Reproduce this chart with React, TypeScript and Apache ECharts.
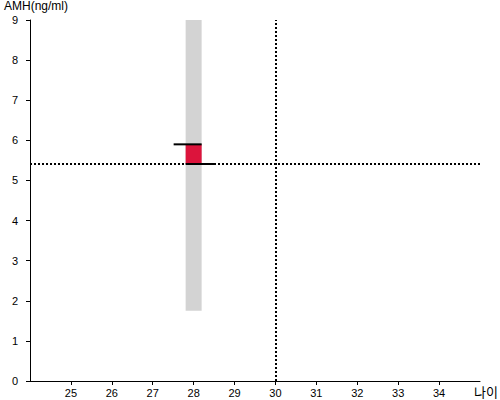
import React, { useEffect, useRef } from "react";
import * as echarts from "echarts";

const ages = [28];
const rangeLow = [1.75];
const rangeHigh = [9];
const amhValues = [5.9];
const referenceAmh = 5.41;
const referenceAge = 30;

export default function App() {
  const ref = useRef<HTMLDivElement>(null);
  useEffect(() => {
    const chart = echarts.init(ref.current!, null, { renderer: "svg" });
    const data = ages.map((a, i) => [a, rangeLow[i], rangeHigh[i], amhValues[i], referenceAmh]);
    chart.setOption({
      animation: false,
      grid: { left: 30, right: 20, top: 20, bottom: 19, containLabel: false, outerBoundsMode: "none" },
      xAxis: {
        type: "value",
        min: 24,
        max: 35,
        interval: 1,
        name: "나이",
        nameLocation: "end",
        nameGap: 0,
        nameTextStyle: { color: "#000", fontSize: 13, lineHeight: 14, fontFamily: "Noto Sans CJK KR", align: "left", verticalAlign: "top", padding: [3, 0, 0, -6] },
        splitLine: { show: false },
        axisLine: { lineStyle: { color: "#000", width: 1 } },
        axisTick: { lineStyle: { color: "#000" }, length: 4 },
        axisLabel: { showMinLabel: false, showMaxLabel: false, color: "#000", fontSize: 11, fontFamily: "Liberation Sans, Arial", margin: 6 },
      },
      yAxis: {
        type: "value",
        min: 0,
        max: 9,
        interval: 1,
        name: "AMH(ng/ml)",
        nameLocation: "end",
        nameGap: 8,
        nameTextStyle: { color: "#000", fontSize: 12, fontFamily: "Liberation Sans, Arial", align: "left", padding: [0, 0, 0, -26] },
        splitLine: { show: false },
        axisLine: { show: true, lineStyle: { color: "#000", width: 1 } },
        axisTick: { show: true, lineStyle: { color: "#000" }, length: 4 },
        axisLabel: { color: "#000", fontSize: 11, fontFamily: "Liberation Sans, Arial", margin: 12 },
      },
      series: [
        {
          type: "custom",
          data,
          encode: { x: 0, y: [1, 2] },
          clip: false,
          renderItem: (params: any, api: any) => {
            const x = api.value(0);
            const lo = api.coord([x, api.value(1)]);
            const hi = api.coord([x, api.value(2)]);
            const v = api.coord([x, api.value(3)]);
            const r = api.coord([x, api.value(4)]);
            const hw = 8;
            return {
              type: "group",
              children: [
                { type: "rect", shape: { x: lo[0] - hw, y: hi[1], width: hw * 2, height: lo[1] - hi[1] }, style: { fill: "#d3d3d3" } },
                { type: "rect", shape: { x: v[0] - hw, y: v[1], width: hw * 2, height: r[1] - v[1] }, style: { fill: "#dc143c" } },
                { type: "line", shape: { x1: v[0] - hw - 12, y1: v[1], x2: v[0] + hw, y2: v[1] }, style: { stroke: "#000", lineWidth: 2 } },
                { type: "line", shape: { x1: r[0] - hw, y1: r[1], x2: r[0] + hw + 13, y2: r[1] }, style: { stroke: "#000", lineWidth: 2 } },
              ],
            };
          },
          markLine: {
            silent: true,
            symbol: "none",
            label: { show: false },
            lineStyle: { color: "#000", type: [2, 2], width: 2 },
            data: [{ xAxis: referenceAge }, { yAxis: referenceAmh }],
          },
        },
      ],
    });
    return () => chart.dispose();
  }, []);
  return <div ref={ref} style={{ width: 500, height: 400, position: "absolute", left: 0, top: 0 }} />;
}
